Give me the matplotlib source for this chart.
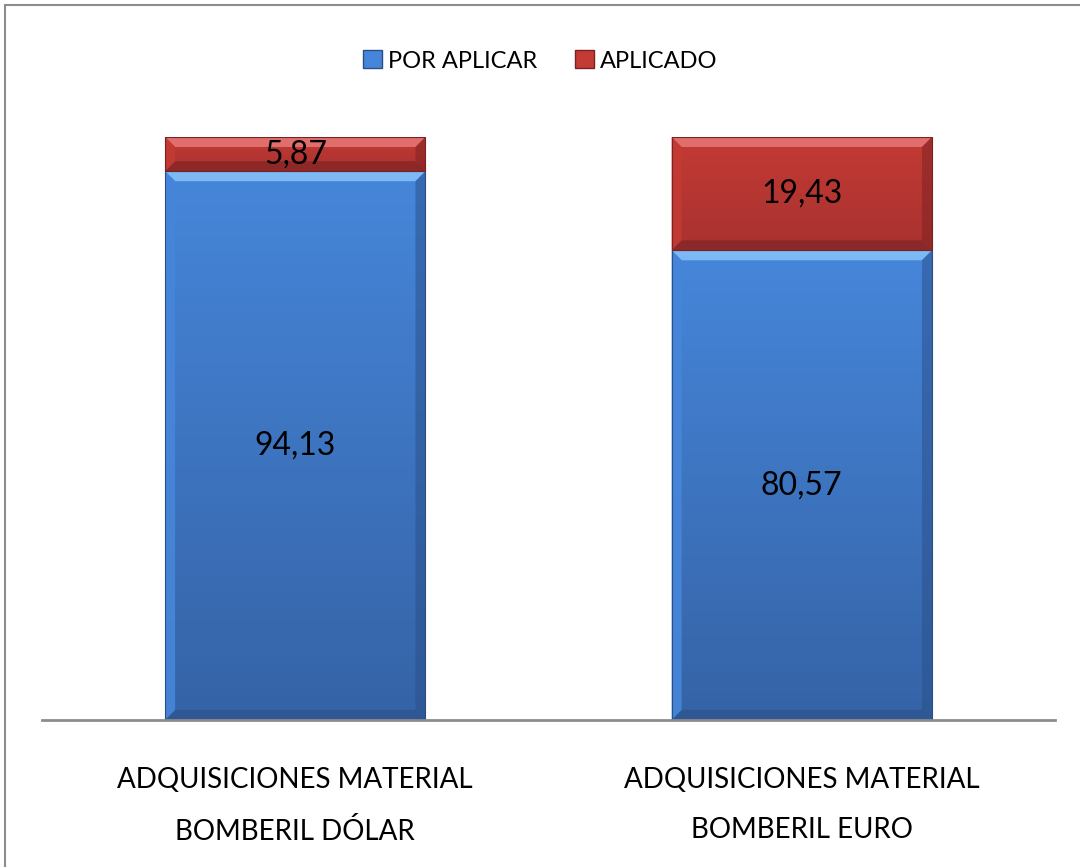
import numpy as np
import matplotlib
matplotlib.use("Agg")
import matplotlib.pyplot as plt
from matplotlib.patches import Polygon, Rectangle, Patch
from matplotlib.colors import LinearSegmentedColormap

plt.rcParams['font.family'] = ['Lato', 'DejaVu Sans']

categories = ['ADQUISICIONES MATERIAL\nBOMBERIL DÓLAR', 'ADQUISICIONES MATERIAL\nBOMBERIL EURO']
por_aplicar = [94.13, 80.57]
aplicado = [5.87, 19.43]
labels_por = ['94,13', '80,57']
labels_apl = ['5,87', '19,43']

BLUE_TOP, BLUE_BOT = '#4686DA', '#3563A6'
RED_TOP, RED_BOT = '#C43A34', '#A83230'

fig = plt.figure(figsize=(10.8, 8.67), dpi=100)
ax = fig.add_axes([0.0389, 0.1696, 0.938, 0.6724])

# outer frame (cut at right/bottom like the original)
fig.patches.append(Rectangle((5 / 1080, -0.05), 1.2, 1 - 5 / 867 + 0.05,
                             transform=fig.transFigure, fill=False,
                             edgecolor='#8c8c8c', lw=1.5))

x = np.arange(len(categories))
width = 0.514
bx = 10 / 506.0        # bevel width in data units (x)
by = 10 / 583.0 * 100  # bevel height in data units (y)


def bevel_bar(xc, y0, h, top, bot, light, dark):
    left, right = xc - width / 2, xc + width / 2
    cmap = LinearSegmentedColormap.from_list('g', [bot, top])
    grad = np.linspace(0, 1, 100).reshape(-1, 1)
    rect = Rectangle((left, y0), width, h, facecolor='none', edgecolor='none')
    ax.add_patch(rect)
    im = ax.imshow(grad, cmap=cmap, aspect='auto', origin='lower',
                   extent=(left, right, y0, y0 + h), zorder=2)
    im.set_clip_path(rect)
    # top highlight
    ax.add_patch(Polygon([(left, y0 + h), (right, y0 + h), (right - bx, y0 + h - by),
                          (left + bx, y0 + h - by)], closed=True,
                         facecolor=light, edgecolor='none', alpha=0.85, zorder=3))
    # bottom shade
    ax.add_patch(Polygon([(left, y0), (right, y0), (right - bx, y0 + by),
                          (left + bx, y0 + by)], closed=True,
                         facecolor=dark, edgecolor='none', alpha=0.6, zorder=3))
    # left side
    ax.add_patch(Polygon([(left, y0), (left + bx, y0 + by), (left + bx, y0 + h - by),
                          (left, y0 + h)], closed=True,
                         facecolor=top, edgecolor='none', alpha=0.9, zorder=3))
    # right side
    ax.add_patch(Polygon([(right, y0), (right - bx, y0 + by), (right - bx, y0 + h - by),
                          (right, y0 + h)], closed=True,
                         facecolor=dark, edgecolor='none', alpha=0.5, zorder=3))
    ax.add_patch(Rectangle((left, y0), width, h, facecolor='none',
                           edgecolor=dark, lw=0.8, zorder=4))


for i in range(len(categories)):
    bevel_bar(x[i], 0, por_aplicar[i], BLUE_TOP, BLUE_BOT, '#86C3FA', '#2A4F88')
    bevel_bar(x[i], por_aplicar[i], aplicado[i], RED_TOP, RED_BOT, '#E67878', '#7A2222')
    ax.text(x[i], por_aplicar[i] / 2, labels_por[i], ha='center', va='center',
            fontsize=23, color='black', zorder=5)
    ax.text(x[i], por_aplicar[i] + aplicado[i] / 2, labels_apl[i], ha='center',
            va='center', fontsize=23, color='black', zorder=5)

ax.set_xlim(-0.5, 1.5)
ax.set_ylim(0, 100)
ax.set_xticks(x)
ax.set_xticklabels(categories, fontsize=20, linespacing=2.15)
ax.tick_params(axis='x', length=0, pad=34)
ax.set_yticks([])
for s in ['top', 'right', 'left']:
    ax.spines[s].set_visible(False)
ax.spines['bottom'].set_color('#8c8c8c')
ax.spines['bottom'].set_linewidth(2)
ax.spines['bottom'].set_zorder(6)

handles = [Patch(facecolor=BLUE_TOP, edgecolor='#2A4F88', label='POR APLICAR'),
           Patch(facecolor=RED_TOP, edgecolor='#7A2222', label='APLICADO')]
fig.legend(handles=handles, loc='center', bbox_to_anchor=(0.5, 1 - 61 / 867),
           ncol=2, frameon=False, fontsize=17, handlelength=0.8, handleheight=0.8,
           handletextpad=0.25, columnspacing=1.6)

fig.savefig('out.png', dpi=100)
